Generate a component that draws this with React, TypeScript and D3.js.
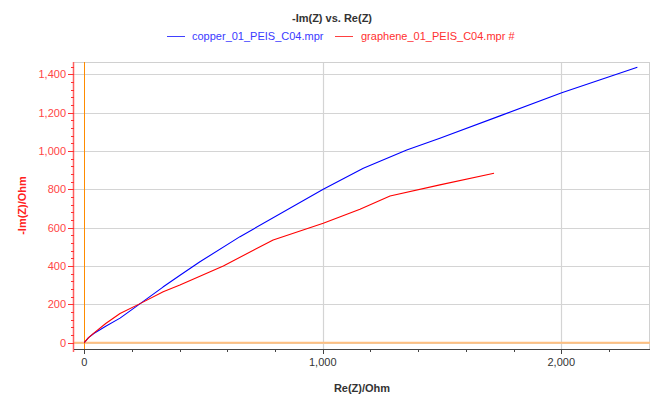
import React from "react";
import * as d3 from "d3";

const copperRe = [0, 18, 40, 90, 150, 236, 330, 400, 485, 653, 1002, 1170, 1352, 1491, 1743, 2002, 2319];
const copperIm = [0, 26, 48, 86, 128, 205, 290, 350, 422, 553, 800, 910, 1005, 1066, 1183, 1304, 1437];
const grapheneRe = [0, 18, 40, 90, 150, 236, 331, 401, 583, 792, 1002, 1156, 1282, 1491, 1718];
const grapheneIm = [0, 26, 50, 100, 152, 205, 266, 301, 400, 536, 623, 696, 765, 823, 884];
const yMajorTicks = [0, 200, 400, 600, 800, 1000, 1200, 1400];
const xMajorTicks = [0, 1000, 2000];
const seriesNames = ["copper_01_PEIS_C04.mpr", "graphene_01_PEIS_C04.mpr #"];

const W = 656, H = 396;
const L = 74, R = 650, T = 62, B = 349;
const FONT = "'Liberation Sans', Arial, sans-serif";

export default function App() {
  const x = d3.scaleLinear().domain([-43, 2372]).range([L, R]);
  const y = d3.scaleLinear().domain([-33, 1464]).range([B, T]);
  const fmt = d3.format(",");
  const line = d3.line<[number, number]>().x(d => x(d[0])).y(d => y(d[1]));
  const copper = copperRe.map((v, i) => [v, copperIm[i]] as [number, number]);
  const graphene = grapheneRe.map((v, i) => [v, grapheneIm[i]] as [number, number]);
  const yMinor = d3.range(0, 1464, 40);
  const xMinor = d3.range(0, 2372, 200);

  return (
    <svg width={W} height={H} style={{ position: "absolute", left: 0, top: 0, background: "#fff" }} fontFamily={FONT}>
      <rect x={0} y={0} width={W} height={H} fill="#fff" />
      {/* title */}
      <text x={332} y={22} textAnchor="middle" fontSize={11} fontWeight="bold" fill="#333">-Im(Z) vs. Re(Z)</text>
      {/* legend */}
      <line x1={167} x2={185} y1={36.5} y2={36.5} stroke="#4040ff" strokeWidth={1} />
      <text x={192} y={40} fontSize={11} fill="#3a3aff">{seriesNames[0]}</text>
      <line x1={335} x2={353} y1={36.5} y2={36.5} stroke="#ff4040" strokeWidth={1} />
      <text x={361} y={40} fontSize={11} fill="#ff3030">{seriesNames[1]}</text>

      {/* gridlines */}
      {yMajorTicks.map(t => (
        <line key={"gy" + t} x1={L} x2={R} y1={Math.round(y(t)) + 0.5} y2={Math.round(y(t)) + 0.5} stroke="#d4d4d4" strokeWidth={1.2} />
      ))}
      {xMajorTicks.filter(t => t > 0).map(t => (
        <line key={"gx" + t} x1={Math.round(x(t)) + 0.5} x2={Math.round(x(t)) + 0.5} y1={T} y2={B} stroke="#d4d4d4" strokeWidth={1.2} />
      ))}
      {/* frame top/right */}
      <line x1={L} x2={R} y1={T + 0.5} y2={T + 0.5} stroke="#d0d0d0" />
      <line x1={R - 0.5} x2={R - 0.5} y1={T} y2={B} stroke="#d0d0d0" />

      {/* orange zero lines */}
      <line x1={L} x2={R} y1={y(0)} y2={y(0)} stroke="#ffc080" strokeWidth={2} />
      <line x1={Math.round(x(0)) + 0.5} x2={Math.round(x(0)) + 0.5} y1={T} y2={B} stroke="#ff8c00" strokeWidth={1} />

      {/* series */}
      <path d={line(copper) || ""} fill="none" stroke="#0000ff" strokeWidth={1.1} strokeLinejoin="round" />
      <path d={line(graphene) || ""} fill="none" stroke="#ff0000" strokeWidth={1.1} strokeLinejoin="round" />

      {/* y axis */}
      <line x1={L - 0.5} x2={L - 0.5} y1={T} y2={B + 3} stroke="#ff6060" strokeWidth={1.5} />
      {yMinor.map(t => (
        <line key={"ym" + t} x1={L - 3} x2={L} y1={Math.round(y(t)) + 0.5} y2={Math.round(y(t)) + 0.5} stroke="#ff3030" />
      ))}
      {yMajorTicks.map(t => (
        <g key={"yt" + t}>
          <line x1={L - 6} x2={L} y1={Math.round(y(t)) + 0.5} y2={Math.round(y(t)) + 0.5} stroke="#ff3030" />
          <text x={L - 8} y={y(t) + 4} textAnchor="end" fontSize={11} fill="#ff4545">{fmt(t)}</text>
        </g>
      ))}
      <text transform={`translate(26, ${(T + B) / 2}) rotate(-90)`} textAnchor="middle" fontSize={11} fontWeight="bold" fill="#ff2020">-Im(Z)/Ohm</text>

      {/* x axis */}
      <line x1={L} x2={R} y1={B + 0.5} y2={B + 0.5} stroke="#444" strokeWidth={1} />
      {xMinor.map(t => (
        <line key={"xm" + t} x1={Math.round(x(t)) + 0.5} x2={Math.round(x(t)) + 0.5} y1={B} y2={B + 3} stroke="#444" />
      ))}
      {xMajorTicks.map(t => (
        <g key={"xt" + t}>
          <line x1={Math.round(x(t)) + 0.5} x2={Math.round(x(t)) + 0.5} y1={B} y2={B + 5} stroke="#444" />
          <text x={x(t)} y={366} textAnchor="middle" fontSize={11} fill="#333">{fmt(t)}</text>
        </g>
      ))}
      <text x={(L + R) / 2} y={392} textAnchor="middle" fontSize={11} fontWeight="bold" fill="#333">Re(Z)/Ohm</text>
    </svg>
  );
}
